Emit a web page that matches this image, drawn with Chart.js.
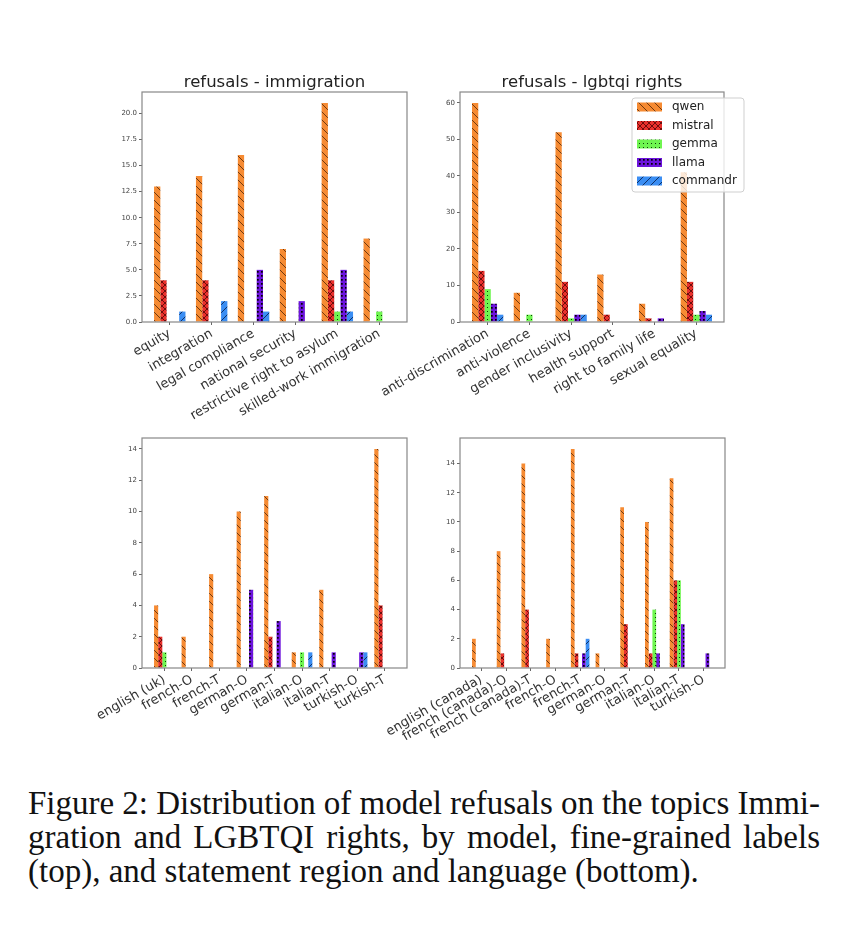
<!DOCTYPE html>
<html>
<head>
<meta charset="utf-8">
<script src="https://cdn.jsdelivr.net/npm/chart.js@4.4.1/dist/chart.umd.min.js"></script>
<style>
body { margin: 0; background: #fff; width: 866px; height: 940px; position: relative; overflow: hidden; }
.box { position: absolute; }
#caption { position: absolute; left: 28px; top: 786px; width: 792px; font-family: 'Liberation Serif', 'Times New Roman', serif; font-size: 33px; line-height: 34px; color: #111; }
#caption div { white-space: nowrap; }
#caption .j { text-align: justify; text-align-last: justify; word-spacing: -6px; }
</style>
</head>
<body>
<div class="box" style="left:60px;top:66px"><canvas id="c1" width="360" height="362"></canvas></div>
<div class="box" style="left:370px;top:66px"><canvas id="c2" width="380" height="362"></canvas></div>
<div class="box" style="left:60px;top:412px"><canvas id="c3" width="360" height="340"></canvas></div>
<div class="box" style="left:370px;top:412px"><canvas id="c4" width="380" height="340"></canvas></div>
<div id="caption">
  <div class="j">Figure 2: Distribution of model refusals on the topics Immi-</div>
  <div class="j">gration and LGBTQI rights, by model, fine-grained labels</div>
  <div>(top), and statement region and language (bottom).</div>
</div>
<script>
const models = ['qwen', 'mistral', 'gemma', 'llama', 'commandr'];

// refusals - immigration
const immLabels = ['equity', 'integration', 'legal compliance', 'national security', 'restrictive right to asylum', 'skilled-work immigration'];
const immQwen = [13, 14, 16, 7, 21, 8];
const immMistral = [4, 4, 0, 0, 4, 0];
const immGemma = [0, 0, 0, 0, 1, 1];
const immLlama = [0, 0, 5, 2, 5, 0];
const immCommandr = [1, 2, 1, 0, 1, 0];
const immTicks = [0, 2.5, 5, 7.5, 10, 12.5, 15, 17.5, 20];

// refusals - lgbtqi rights
const lgbLabels = ['anti-discrimination', 'anti-violence', 'gender inclusivity', 'health support', 'right to family life', 'sexual equality'];
const lgbQwen = [60, 8, 52, 13, 5, 41];
const lgbMistral = [14, 0, 11, 2, 1, 11];
const lgbGemma = [9, 2, 1, 0, 0, 2];
const lgbLlama = [5, 0, 2, 0, 1, 3];
const lgbCommandr = [2, 0, 2, 0, 0, 2];
const lgbTicks = [0, 10, 20, 30, 40, 50, 60];

// immigration by language
const immLangLabels = ['english (uk)', 'french-O', 'french-T', 'german-O', 'german-T', 'italian-O', 'italian-T', 'turkish-O', 'turkish-T'];
const immLangQwen = [4, 2, 6, 10, 11, 1, 5, 0, 14];
const immLangMistral = [2, 0, 0, 0, 2, 0, 0, 0, 4];
const immLangGemma = [1, 0, 0, 0, 0, 1, 0, 0, 0];
const immLangLlama = [0, 0, 0, 5, 3, 0, 1, 1, 0];
const immLangCommandr = [0, 0, 0, 0, 0, 1, 0, 1, 0];
const immLangTicks = [0, 2, 4, 6, 8, 10, 12, 14];

// lgbtqi by language
const lgbLangLabels = ['english (canada)', 'french (canada)-O', 'french (canada)-T', 'french-O', 'french-T', 'german-O', 'german-T', 'italian-O', 'italian-T', 'turkish-O'];
const lgbLangQwen = [2, 8, 14, 2, 15, 1, 11, 10, 13, 0];
const lgbLangMistral = [0, 1, 4, 0, 1, 0, 3, 1, 6, 0];
const lgbLangGemma = [0, 0, 0, 0, 0, 0, 0, 4, 6, 0];
const lgbLangLlama = [0, 0, 0, 0, 1, 0, 0, 1, 3, 1];
const lgbLangCommandr = [0, 0, 0, 0, 2, 0, 0, 0, 0, 0];
const lgbLangTicks = [0, 2, 4, 6, 8, 10, 12, 14];

Chart.defaults.font.family = "'DejaVu Sans', sans-serif";

// hatch fills like matplotlib
function hatch(color, kind, ink) {
    const s = (kind === 'cross') ? 6 : (kind === 'dots' || kind === 'bigdots') ? 4 : 8;
    const c = document.createElement('canvas');
    c.width = s; c.height = s;
    const g = c.getContext('2d');
    g.fillStyle = color;
    g.fillRect(0, 0, s, s);
    g.strokeStyle = ink;
    g.fillStyle = ink;
    g.lineWidth = 0.9;
    if (kind === 'back' || kind === 'cross') {
        g.beginPath();
        for (let k = -1; k <= 1; k++) {
            g.moveTo(-2, -2 + k * s);
            g.lineTo(s + 2, s + 2 + k * s);
        }
        g.stroke();
    }
    if (kind === 'fwd' || kind === 'cross') {
        g.beginPath();
        for (let k = 0; k <= 2; k++) {
            g.moveTo(-2, k * s + 2);
            g.lineTo(s + 2, k * s - s - 2);
        }
        g.stroke();
    }
    if (kind === 'dots') g.fillRect(1, 1, 1, 1);
    if (kind === 'bigdots') g.fillRect(1, 1, 1.7, 1.7);
    return g.createPattern(c, 'repeat');
}

const fills = [
    hatch('#f68b33', 'back', 'rgba(60,25,0,0.8)'),
    hatch('#e9302c', 'cross', 'rgba(60,0,0,0.8)'),
    hatch('#6ff550', 'dots', 'rgba(0,40,0,0.9)'),
    hatch('#6c14dc', 'bigdots', '#000'),
    hatch('#3b8ef3', 'fwd', 'rgba(0,20,60,0.85)')
];

function makeChart(id, title, labels, series, yTicks, decimals, yWidth, xHeight, padRight, withLegend) {
    const n = labels.length;
    const span = n - 1 + 0.75;
    const xMin = -0.375 - 0.05 * span;
    const xMax = n - 1 + 0.375 + 0.05 * span;
    const yMax = Math.max(...series.flat()) * 1.05;

    const framePlugin = {
        id: 'frame',
        afterDraw(chart) {
            const a = chart.chartArea;
            const c = chart.ctx;
            c.save();
            c.strokeStyle = '#888';
            c.lineWidth = 1.2;
            c.strokeRect(a.left, a.top, a.right - a.left, a.bottom - a.top);
            c.fillStyle = '#222';
            c.font = "16.5px 'DejaVu Sans'";
            c.textAlign = 'center';
            c.textBaseline = 'alphabetic';
            if (title) c.fillText(title, (a.left + a.right) / 2, a.top - 5);
            if (withLegend) {
                const bx = 262, by = 32, bw = 112, bh = 94;
                c.fillStyle = 'rgba(255,255,255,0.8)';
                c.strokeStyle = '#cfcfcf';
                c.lineWidth = 1;
                c.beginPath();
                c.roundRect(bx, by, bw, bh, 3);
                c.fill();
                c.stroke();
                c.font = "12px 'DejaVu Sans'";
                c.textAlign = 'left';
                c.textBaseline = 'middle';
                models.forEach((m, i) => {
                    const y = by + 9 + i * 18.5;
                    c.fillStyle = fills[i];
                    c.fillRect(bx + 5, y - 4.5, 25, 9);
                    c.fillStyle = '#222';
                    c.fillText(m, bx + 40, y);
                });
            }
            c.restore();
        }
    };

    return new Chart(document.getElementById(id), {
        type: 'bar',
        data: {
            datasets: series.map((vals, i) => ({
                label: models[i],
                data: vals.map((v, j) => ({ x: j, y: v })),
                backgroundColor: fills[i],
                borderWidth: 0,
                categoryPercentage: 0.75,
                barPercentage: 1.0
            }))
        },
        options: {
            responsive: false,
            animation: false,
            layout: { padding: { top: 26, right: padRight, left: 0, bottom: 0 } },
            plugins: { legend: { display: false }, tooltip: { enabled: false } },
            scales: {
                x: {
                    type: 'linear',
                    min: xMin,
                    max: xMax,
                    offset: false,
                    border: { display: false },
                    grid: { offset: false, drawOnChartArea: false, drawTicks: true, tickLength: 3, color: '#666' },
                    afterBuildTicks: (scale) => { scale.ticks = labels.map((l, i) => ({ value: i })); },
                    afterFit: (scale) => { scale.height = xHeight; },
                    ticks: {
                        autoSkip: false,
                        minRotation: 30,
                        maxRotation: 30,
                        padding: 1,
                        color: '#333',
                        font: { size: 13 },
                        callback: (v) => labels[v]
                    }
                },
                y: {
                    min: 0,
                    max: yMax,
                    border: { display: false },
                    grid: { drawOnChartArea: false, drawTicks: true, tickLength: 3, color: '#666' },
                    afterBuildTicks: (scale) => { scale.ticks = yTicks.map(v => ({ value: v })); },
                    afterFit: (scale) => { scale.width = yWidth; },
                    ticks: {
                        padding: 2,
                        color: '#444',
                        font: { size: 7 },
                        callback: (v) => Number(v).toFixed(decimals)
                    }
                }
            }
        },
        plugins: [framePlugin]
    });
}

makeChart('c1', 'refusals - immigration', immLabels,
    [immQwen, immMistral, immGemma, immLlama, immCommandr], immTicks, 1, 82, 106, 13, false);
makeChart('c2', 'refusals - lgbtqi rights', lgbLabels,
    [lgbQwen, lgbMistral, lgbGemma, lgbLlama, lgbCommandr], lgbTicks, 0, 90, 106, 26, true);
makeChart('c3', '', immLangLabels,
    [immLangQwen, immLangMistral, immLangGemma, immLangLlama, immLangCommandr], immLangTicks, 0, 82, 84, 13, false);
makeChart('c4', '', lgbLangLabels,
    [lgbLangQwen, lgbLangMistral, lgbLangGemma, lgbLangLlama, lgbLangCommandr], lgbLangTicks, 0, 90, 84, 25, false);
</script>
</body>
</html>
